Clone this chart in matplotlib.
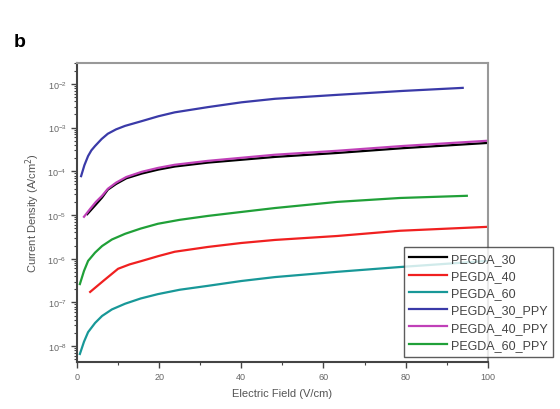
import matplotlib
matplotlib.use("Agg")
import matplotlib.pyplot as plt
import numpy as np

plt.rcParams['font.family'] = ['Liberation Sans', 'DejaVu Sans']

# electric field (V/cm) and log10 of current density (A/cm^2)
x_p30 = [1.0, 1.8, 2.7, 3.5, 4.4, 6.0, 7.5, 9.5, 11.7, 15.8, 19.8, 23.8, 31.9, 40.1, 48.2, 63.3, 79.3, 93.9]
y_p30 = [-4.11, -3.86, -3.65, -3.52, -3.42, -3.26, -3.14, -3.04, -2.96, -2.85, -2.74, -2.65, -2.53, -2.42, -2.34, -2.25, -2.16, -2.09]

x_p40 = [1.7, 3.2, 4.6, 6.1, 7.5, 9.5, 12.0, 15.8, 19.8, 23.8, 31.9, 48.2, 63.3, 79.3, 100]
y_p40 = [-5.04, -4.86, -4.70, -4.56, -4.40, -4.26, -4.13, -4.01, -3.92, -3.85, -3.76, -3.62, -3.53, -3.42, -3.30]

x_30 = [2.5, 4.6, 6.1, 7.5, 9.5, 12.0, 15.8, 19.8, 23.8, 31.9, 48.2, 63.3, 79.3, 100]
y_30 = [-4.98, -4.76, -4.60, -4.42, -4.29, -4.16, -4.05, -3.96, -3.89, -3.80, -3.67, -3.58, -3.47, -3.35]

x_p60 = [0.7, 1.7, 2.7, 4.4, 6.1, 8.5, 11.7, 15.5, 19.7, 25.0, 31.9, 40.0, 48.2, 63.3, 78.6, 94.9]
y_p60 = [-6.58, -6.28, -6.05, -5.86, -5.71, -5.56, -5.43, -5.31, -5.20, -5.11, -5.02, -4.93, -4.84, -4.70, -4.61, -4.56]

x_40 = [3.2, 6.5, 10.0, 12.8, 15.8, 19.8, 23.8, 31.9, 40.0, 48.2, 63.3, 78.6, 100]
y_40 = [-6.76, -6.50, -6.23, -6.13, -6.05, -5.94, -5.84, -5.73, -5.64, -5.57, -5.48, -5.36, -5.27]

x_60 = [0.7, 1.7, 2.7, 4.4, 6.1, 8.5, 11.7, 15.5, 19.7, 25.0, 31.9, 40.0, 48.2, 63.3, 78.6, 100]
y_60 = [-8.18, -7.90, -7.68, -7.47, -7.31, -7.16, -7.03, -6.91, -6.81, -6.71, -6.62, -6.51, -6.42, -6.30, -6.19, -6.05]

fig = plt.figure(figsize=(5.6, 4.1), dpi=100)
ax = fig.add_axes([0.1375, 0.115, 0.7335, 0.729])

lw = 1.6
ax.plot(x_30, 10 ** np.array(y_30), color='black', lw=lw, label='PEGDA_30')
ax.plot(x_40, 10 ** np.array(y_40), color='#f02020', lw=lw, label='PEGDA_40')
ax.plot(x_60, 10 ** np.array(y_60), color='#189898', lw=lw, label='PEGDA_60')
ax.plot(x_p30, 10 ** np.array(y_p30), color='#3a3aa8', lw=lw, label='PEGDA_30_PPY')
ax.plot(x_p40, 10 ** np.array(y_p40), color='#c040b8', lw=lw, label='PEGDA_40_PPY')
ax.plot(x_p60, 10 ** np.array(y_p60), color='#20a038', lw=lw, label='PEGDA_60_PPY')

ax.set_yscale('log')
ax.set_xlim(0, 100)
ax.set_ylim(10 ** -8.36, 10 ** -1.52)
ax.set_xticks([0, 20, 40, 60, 80, 100])
ax.set_xticks([10, 30, 50, 70, 90], minor=True)
ax.set_yticks([10.0 ** e for e in range(-8, -1)])

ax.tick_params(which='both', direction='out', top=False, right=False,
               labelsize=6.5, labelcolor='#666666', color='#444444')
ax.tick_params(which='major', length=4, width=1)
ax.tick_params(which='minor', length=2, width=0.8)
for s in ['top', 'right']:
    ax.spines[s].set_color('#999999')
    ax.spines[s].set_linewidth(1.5)
for s in ['left', 'bottom']:
    ax.spines[s].set_color('#444444')
    ax.spines[s].set_linewidth(1.5)

ax.set_xlabel('Electric Field (V/cm)', fontsize=8, color='#555555', labelpad=5)
ax.set_ylabel('Current Density (A/cm$^2$)', fontsize=8, color='#555555', labelpad=4)

leg = ax.legend(loc='upper left', bbox_to_anchor=(0.78, 0.405), fontsize=9,
                frameon=True, fancybox=False, edgecolor='#333333',
                handlelength=3.0, borderpad=0.45, labelspacing=0.42, handletextpad=0.3)
leg.get_frame().set_linewidth(1.0)
for t in leg.get_texts():
    t.set_color('#444444')

fig.text(0.025, 0.885, 'b', fontsize=14, fontweight='bold')

fig.savefig('out.png', dpi=100)
